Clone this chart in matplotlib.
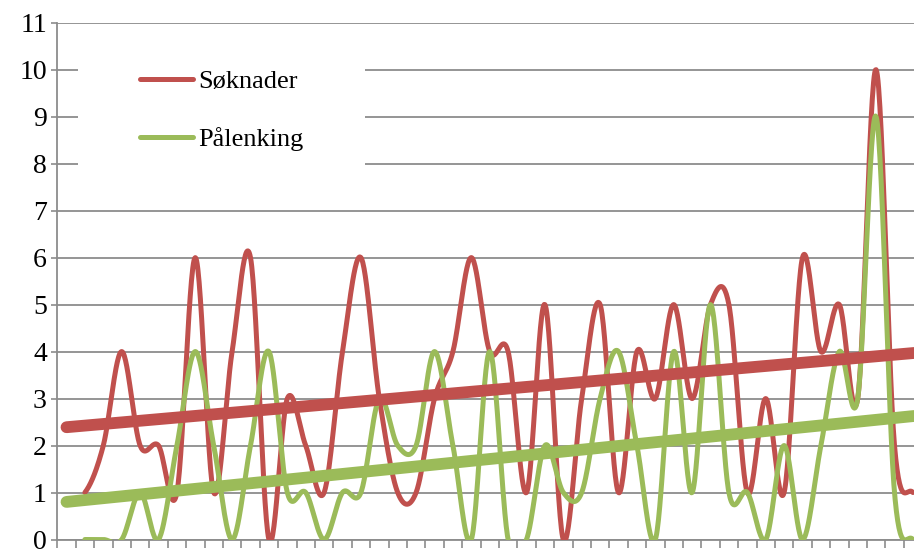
import numpy as np
import matplotlib
matplotlib.use("Agg")
import matplotlib.pyplot as plt
from matplotlib.lines import Line2D
from matplotlib.patches import Rectangle

plt.rcParams["font.family"] = ["Liberation Serif", "DejaVu Serif"]

# periods 2..47 are visible (period 1 is blank in the sheet)
periods = np.arange(2, 48)
soknader = [1, 2, 4, 2, 2, 1, 6, 1, 4, 6, 0, 3, 2, 1, 4, 6, 3, 1, 1, 3, 4, 6, 4,
            4, 1, 5, 0, 3, 5, 1, 4, 3, 5, 3, 5, 5, 1, 3, 1, 6, 4, 5, 3, 10, 2, 1]
palenking = [0, 0, 0, 1, 0, 2, 4, 2, 0, 2, 4, 1, 1, 0, 1, 1, 3, 2, 2, 4, 2, 0, 4,
             0, 0, 2, 1, 1, 3, 4, 2, 0, 4, 1, 5, 1, 1, 0, 2, 0, 2, 4, 3, 9, 1, 0]

# linear trend lines (value at period 1, slope per period)
trend_soknader = (2.39, 0.0343)
trend_palenking = (0.80, 0.0397)

labels = ["Søknader", "Pålenking"]
red = "#C0504D"
green = "#9BBB59"
grid_col = "#8C8C8C"


def smooth(x, y, n=30):
    # Excel-like smoothed line: cubic bezier through points (Catmull-Rom tangents)
    x = np.asarray(x, float)
    y = np.asarray(y, float)
    xs, ys = [], []
    for i in range(len(x) - 1):
        y0 = y[i - 1] if i > 0 else y[i]
        y3 = y[i + 2] if i + 2 < len(y) else y[i + 1]
        c1 = y[i] + (y[i + 1] - y0) / 6
        c2 = y[i + 1] - (y3 - y[i]) / 6
        t = np.linspace(0, 1, n)
        b = ((1 - t) ** 3 * y[i] + 3 * (1 - t) ** 2 * t * c1
             + 3 * (1 - t) * t ** 2 * c2 + t ** 3 * y[i + 1])
        xs.append(x[i] + t * (x[i + 1] - x[i]))
        ys.append(b)
    return np.concatenate(xs), np.concatenate(ys)


W, H = 914, 550
fig = plt.figure(figsize=(W / 100, H / 100), dpi=100)
left, right, top, bottom = 57.3, 914, 22.7, 539.5
ax = fig.add_axes([left / W, (H - bottom) / H, (right - left) / W, (bottom - top) / H])

x_right = 0.5 + (right - left) / 18.4
ax.set_xlim(0.5, x_right)
ax.set_ylim(0, 11)

ax.set_yticks(range(0, 12))
ax.yaxis.grid(True, color=grid_col, linewidth=1.3)
ax.set_axisbelow(True)
ax.set_xticks([])
ax.set_xticks(np.arange(0.5, 47.5, 1), minor=True)
ax.tick_params(axis="x", which="minor", direction="out", length=6, width=1.2,
               color=grid_col)
ax.tick_params(axis="y", direction="out", length=4.5, width=1.2, color=grid_col,
               labelsize=20, pad=3)
for s in ("top", "right"):
    ax.spines[s].set_visible(False)
for s in ("left", "bottom"):
    ax.spines[s].set_color(grid_col)
    ax.spines[s].set_linewidth(1.3)

sx, sy = smooth(periods, soknader)
ax.plot(sx, sy, color=red, lw=3.6, solid_capstyle="round", solid_joinstyle="round",
        zorder=3)
gx, gy = smooth(periods, palenking)
ax.plot(gx, gy, color=green, lw=3.6, solid_capstyle="round", solid_joinstyle="round",
        zorder=3)

tx = np.array([1, x_right])
ax.plot(tx, trend_soknader[0] + trend_soknader[1] * (tx - 1), color=red, lw=8.5,
        solid_capstyle="round", zorder=4)
ax.plot(tx, trend_palenking[0] + trend_palenking[1] * (tx - 1), color=green, lw=8.5,
        solid_capstyle="round", zorder=4)

# white legend area covering the grid lines
fig.patches.append(Rectangle((78 / W, (H - 185) / H), (365 - 78) / W, 145 / H,
                             transform=fig.transFigure, facecolor="white",
                             edgecolor="none", zorder=1))
handles = [Line2D([], [], color=red, lw=3.6, solid_capstyle="round"),
           Line2D([], [], color=green, lw=3.6, solid_capstyle="round")]
fig.legend(handles, labels, loc="upper left", bbox_to_anchor=(140 / W, 1 - 70 / H),
           frameon=False, prop={"family": "Liberation Serif", "size": 19},
           handlelength=2.0, handletextpad=0.2, labelspacing=1.28,
           borderpad=0, borderaxespad=0)

fig.savefig("out.png", dpi=100)
